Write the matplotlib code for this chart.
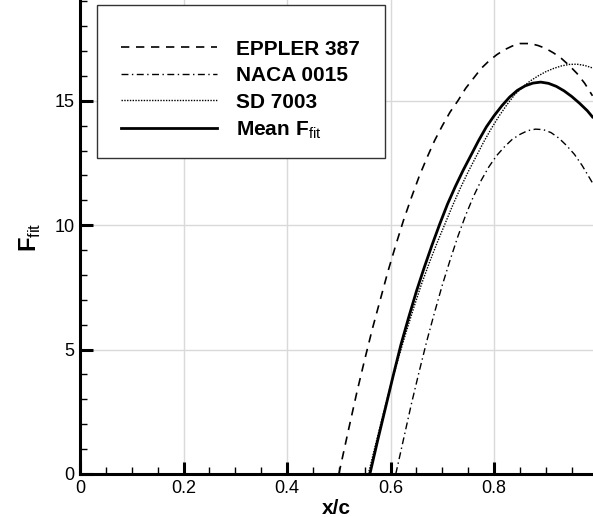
import matplotlib
matplotlib.use("Agg")
import matplotlib.pyplot as plt
from matplotlib.patches import Rectangle
from matplotlib.ticker import MultipleLocator

plt.rcParams['font.family'] = ['Liberation Sans', 'DejaVu Sans']
plt.rcParams['mathtext.fontset'] = 'custom'
plt.rcParams['mathtext.rm'] = 'Liberation Sans'
plt.rcParams['mathtext.bf'] = 'Liberation Sans:bold'

# values
x_eppler = [0.50, 0.52, 0.535, 0.55, 0.565, 0.58, 0.595, 0.61, 0.625, 0.64, 0.655,
            0.67, 0.685, 0.70, 0.715, 0.73, 0.745, 0.76, 0.775, 0.79, 0.805, 0.82,
            0.835, 0.85, 0.87, 0.885, 0.90, 0.915, 0.93, 0.945, 0.96, 0.975, 0.99]
f_eppler = [0.0, 1.9, 3.3, 4.6, 5.85, 7.0, 8.15, 9.2, 10.2, 11.1, 11.95,
            12.7, 13.4, 14.0, 14.55, 15.0, 15.5, 15.9, 16.3, 16.6, 16.85, 17.05,
            17.2, 17.3, 17.3, 17.22, 17.1, 16.92, 16.7, 16.42, 16.1, 15.7, 15.2]

x_naca = [0.61, 0.625, 0.64, 0.655, 0.67, 0.685, 0.70, 0.715, 0.73, 0.745, 0.76,
          0.775, 0.79, 0.805, 0.82, 0.835, 0.85, 0.865, 0.88, 0.895, 0.91, 0.925,
          0.94, 0.955, 0.97, 0.98, 0.99]
f_naca = [0.0, 1.4, 2.8, 4.1, 5.35, 6.5, 7.6, 8.6, 9.55, 10.4, 11.15,
          11.8, 12.35, 12.8, 13.15, 13.45, 13.65, 13.8, 13.86, 13.84, 13.72, 13.5,
          13.2, 12.85, 12.4, 12.05, 11.7]

x_sd = [0.557, 0.57, 0.585, 0.60, 0.615, 0.63, 0.645, 0.66, 0.675, 0.69, 0.705,
        0.72, 0.735, 0.75, 0.765, 0.78, 0.795, 0.81, 0.825, 0.84, 0.855, 0.87,
        0.885, 0.90, 0.915, 0.93, 0.945, 0.96, 0.975, 0.99]
f_sd = [0.0, 1.1, 2.35, 3.55, 4.65, 5.7, 6.7, 7.65, 8.5, 9.3, 10.05,
        10.8, 11.5, 12.15, 12.75, 13.35, 13.9, 14.4, 14.85, 15.25, 15.55, 15.8,
        16.0, 16.17, 16.3, 16.4, 16.46, 16.47, 16.42, 16.32]

x_mean = [0.56, 0.575, 0.59, 0.605, 0.62, 0.635, 0.65, 0.665, 0.68, 0.695, 0.71,
          0.725, 0.74, 0.755, 0.77, 0.785, 0.80, 0.815, 0.83, 0.845, 0.86, 0.875,
          0.89, 0.905, 0.92, 0.935, 0.95, 0.965, 0.98, 0.99]
f_mean = [0.0, 1.35, 2.65, 3.95, 5.2, 6.3, 7.35, 8.3, 9.2, 10.05, 10.85,
          11.55, 12.2, 12.8, 13.4, 13.95, 14.4, 14.8, 15.15, 15.42, 15.6, 15.71,
          15.75, 15.7, 15.58, 15.4, 15.17, 14.9, 14.6, 14.35]

labels = ['EPPLER 387', 'NACA 0015', 'SD 7003', r'Mean $\mathbf{F}_{\mathrm{fit}}$']

fig = plt.figure(figsize=(5.93, 5.17), dpi=100)
ax = fig.add_axes([80 / 593, 1 - 474 / 517, 513 / 593, 474 / 517])

ax.plot(x_eppler, f_eppler, color='black', lw=1.2, linestyle=(0, (5, 4)), label=labels[0])
ax.plot(x_naca, f_naca, color='black', lw=1.0, linestyle=(0, (5, 2.5, 1, 2.5)), label=labels[1])
ax.plot(x_sd, f_sd, color='black', lw=1.0, linestyle=(0, (1, 1)), label=labels[2])
ax.plot(x_mean, f_mean, color='black', lw=2.0, label=labels[3])

ax.set_xlim(0, 0.991)
ax.set_ylim(0, 19.05)
ax.xaxis.set_major_locator(MultipleLocator(0.2))
ax.xaxis.set_minor_locator(MultipleLocator(0.05))
ax.yaxis.set_major_locator(MultipleLocator(5))
ax.yaxis.set_minor_locator(MultipleLocator(1))
ax.set_xticks([0, 0.2, 0.4, 0.6, 0.8])
ax.set_xticklabels(['0', '0.2', '0.4', '0.6', '0.8'])

ax.grid(True, which='major', color='#d9d9d9', lw=1)
ax.set_axisbelow(True)
ax.tick_params(which='major', direction='in', length=9, width=2.2, labelsize=13, pad=4)
ax.tick_params(which='minor', direction='in', length=5, width=1)

for side in ['top', 'right']:
    ax.spines[side].set_visible(False)
for side in ['left', 'bottom']:
    ax.spines[side].set_linewidth(2.2)

ax.set_xlabel('x/c', fontsize=15, fontweight='bold', labelpad=2)
ax.set_ylabel(r'$\mathbf{F}_{\mathrm{fit}}$', fontsize=17, labelpad=8)

# legend box drawn separately so the padding matches the reference
box = Rectangle((0.0331, 0.6667), 0.5615, 0.3228, transform=ax.transAxes,
                facecolor='white', edgecolor='#333333', lw=1.0, zorder=4)
ax.add_patch(box)
leg = ax.legend(loc='upper left', bbox_to_anchor=(0.0799, 0.9166), borderaxespad=0,
                prop={'size': 15, 'weight': 'bold'}, handlelength=4.6, handletextpad=0.9,
                labelspacing=0.36, borderpad=0, frameon=False)
leg.set_zorder(5)

fig.savefig('out.png', dpi=100)
